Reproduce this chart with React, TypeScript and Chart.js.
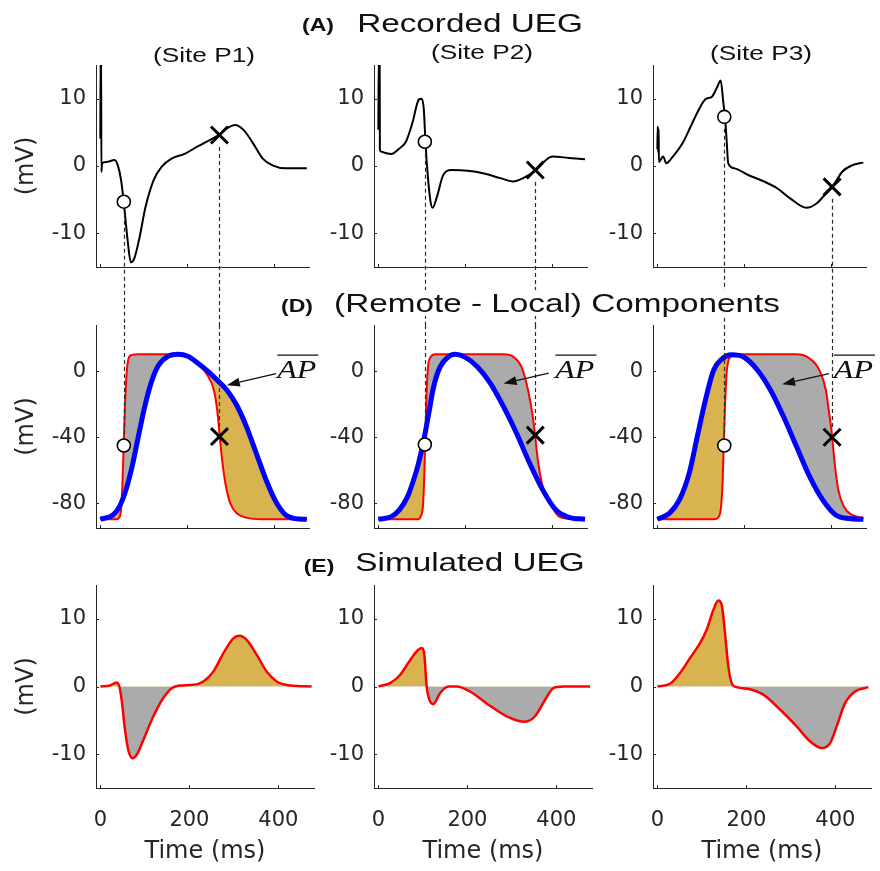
import React, { useEffect, useRef } from 'react';
import { Chart, registerables } from 'chart.js';

Chart.register(...registerables);

// ---------------- data ----------------
const xTicks = [0, 200, 400];
const uegTicks = [-10, 0, 10];
const apTicks = [-80, -40, 0];

// (A) recorded UEG, sites P1..P3  (time ms, mV)
const rec1T = [0, 0.6, 1.2, 1.8, 2.4, 4, 14, 32.7, 40.2, 47.7, 53.7, 62.7, 70.2, 77.7, 88.9, 103.9, 122.6, 141.3, 163.8, 193.8, 223.8, 253.7, 272.5, 291.2, 309.9, 328.7, 351.1, 373.6, 396.1, 426, 475];
const rec1V = [4.1, 16, 4.1, 16, -0.9, 0.4, 0.6, 0.9, 0.1, -2.1, -5.3, -11.0, -14.3, -13.8, -11.0, -6.1, -2.1, -0.1, 1.1, 1.8, 2.9, 3.9, 4.6, 5.6, 6.1, 5.4, 3.4, 1.1, 0.1, -0.35, -0.35];
const rec2T = [0, 1, 2, 3, 3.5, 7.2, 18.5, 29.7, 48.4, 63.4, 78.4, 93.4, 99.4, 104.6, 108.4, 112.1, 119.6, 124.9, 134.6, 149.6, 168.3, 205.8, 243.2, 280.7, 310.7, 333.1, 363.1, 385.6, 400.6, 438, 475.5];
const rec2V = [5.4, 16, 5.4, 16, 2.4, 2.1, 1.9, 1.8, 2.6, 3.6, 6.4, 9.9, 10.0, 8.4, 3.6, -0.1, -5.1, -6.2, -4.6, -1.3, -0.6, -0.7, -1.1, -1.8, -2.3, -1.8, -0.6, 0.9, 1.4, 1.2, 1.0];
const rec3T = [0, 1, 2, 3, 3.5, 13.2, 20.7, 32, 58.2, 76.9, 95.6, 110.6, 125.6, 136.8, 145.8, 151.8, 155.6, 159.3, 163.1, 178, 208, 245.4, 275.5, 305.4, 342.9, 365.4, 387.8, 402.8, 425.3, 447.8, 474];
const rec3V = [2.5, 5.9, 2.0, 5.5, 0.6, 1.4, 0.4, 1.1, 3.4, 5.9, 8.4, 9.9, 10.3, 11.6, 12.7, 9.4, 7.3, 3.9, 0.4, -0.35, -1.3, -2.3, -3.3, -4.8, -6.2, -5.6, -4.1, -3.1, -0.85, 0.1, 0.5];

// (D) mean AP (blue) and local AP (red)
const mean1T = [0, 29, 43.9, 58.9, 73.9, 88.9, 103.9, 118.9, 133.9, 156.4, 178.9, 201.4, 223.8, 246.3, 268.8, 291.3, 313.8, 336.3, 358.8, 381.3, 403.7, 426.2, 448.7, 475];
const mean1V = [-89.7, -87.1, -82.0, -71.9, -56.8, -37.7, -19.5, -5.4, 3.6, 9.1, 10.3, 9.1, 5.0, 0.2, -5.4, -11.5, -20.6, -33.7, -49.8, -65.9, -79.0, -87.1, -89.3, -89.7];
const local1T = [0, 36.4, 43.9, 47.6, 50.6, 53.6, 56.6, 60.4, 64.9, 72.4, 88.9, 160.1, 178.9, 201.4, 223.8, 246.3, 261.3, 268.8, 274.8, 280.1, 287.6, 298.8, 313.8, 336.3, 373.8, 475];
const local1V = [-89.7, -89.7, -88.5, -84.0, -70.0, -45.1, -21.6, -1.4, 7.7, 9.9, 10.3, 10.3, 10.0, 8.6, 4.4, -2.4, -11.5, -23.6, -39.6, -53.8, -67.9, -80.0, -86.1, -88.7, -89.7, -89.7];
const mean2T = [0, 29.7, 48.4, 67.2, 85.9, 93.4, 104.6, 115.9, 127.1, 142.1, 160.8, 175.8, 198.3, 228.3, 258.2, 288.2, 318.2, 348.1, 378.1, 408.1, 438, 475.5];
const mean2V = [-89.7, -88.1, -84.0, -76.0, -61.9, -54.8, -41.7, -25.6, -9.5, 2.6, 8.7, 10.3, 8.7, 2.6, -7.5, -21.6, -37.7, -55.8, -71.9, -84.0, -88.5, -89.7];
const local2T = [0, 93.4, 97.1, 102.4, 105.4, 107.7, 109.9, 113.6, 119.6, 130.9, 288.2, 310.7, 329.4, 344.4, 354.1, 360.5, 366.9, 378.1, 393.1, 415.6, 453, 475.5];
const local2V = [-89.7, -89.7, -88.1, -82.0, -65.9, -44.4, -21.6, 0.6, 8.3, 10.3, 10.3, 8.7, 2.6, -11.5, -25.6, -38.7, -53.8, -69.9, -78.5, -88.1, -89.7, -89.7];
const mean3T = [0, 28.2, 50.7, 73.2, 91.9, 110.6, 129.4, 148.1, 170.6, 200.5, 230.5, 260.5, 290.4, 320.4, 350.4, 380.4, 410.3, 440.3, 474];
const mean3V = [-89.7, -86.0, -78.0, -61.9, -39.6, -17.5, 0.6, 7.3, 9.9, 8.3, 0.6, -11.5, -27.6, -45.8, -63.9, -78.0, -87.1, -89.3, -89.7];
const local3T = [0, 129.4, 140.6, 146.6, 150.3, 152.6, 155.6, 159.3, 166.8, 185.5, 320.4, 350.4, 372.9, 387.8, 395.3, 400.6, 404.3, 408.8, 416.3, 429, 447.8, 474];
const local3V = [-89.7, -89.7, -88.5, -82.0, -65.9, -45.1, -21.6, -1.4, 8.3, 10.3, 10.3, 7.7, 0.6, -11.5, -25.6, -35.7, -45.8, -57.8, -71.9, -82.0, -87.1, -88.9];

// (E) simulated UEG
const sim1T = [0, 21.5, 36.5, 42.4, 47.7, 55.2, 62.7, 71.7, 81.4, 96.4, 118.9, 141.3, 160.1, 178.8, 208.8, 231.3, 253.7, 276.2, 298.7, 311.4, 328.7, 351.1, 373.6, 396.1, 426, 474.7];
const sim1V = [0, 0.15, 0.6, 0, -2.0, -6.4, -9.4, -10.6, -10.1, -7.9, -4.4, -1.7, -0.25, 0.15, 0.25, 0.74, 2.2, 4.9, 7.1, 7.5, 6.9, 4.7, 2.2, 0.74, 0.15, 0];
const sim2T = [0, 26, 48.4, 67.2, 85.9, 97.1, 103.1, 108.4, 115.9, 123.4, 138.3, 157.1, 175.8, 205.8, 243.2, 288.2, 329.4, 351.9, 374.4, 393.1, 415.6, 475.5];
const sim2V = [0, 0.5, 1.7, 3.5, 5.2, 5.7, 4.7, 0, -2.2, -2.6, -1.0, 0, 0, -0.74, -2.5, -4.4, -5.2, -4.4, -2.0, -0.25, 0, 0];
const sim3T = [0, 28.2, 50.7, 73.2, 95.6, 110.6, 125.6, 136.8, 144.3, 151.8, 159.3, 166.8, 178, 208, 237.9, 275.5, 312.9, 342.9, 369.1, 387.8, 402.8, 421.5, 444, 474];
const sim3V = [0, 0.4, 2.0, 4.2, 6.4, 8.4, 11.3, 12.7, 12.1, 7.9, 3.0, 0.5, -0.1, -0.4, -1.2, -3.4, -5.9, -8.1, -9.1, -8.4, -5.9, -2.5, -0.74, -0.1];

// markers (activation circle, repolarisation cross)
const activationT = [54, 107, 154];
const repolT = [274, 361, 402];
const recCircleV = [-5.3, 3.6, 7.3];
const recCrossV = [4.6, -0.6, -3.1];
const apCircleV = [-45, -44.4, -45];
const apCrossV = [-39.6, -38.7, -40];

// AP-bar annotation arrows (data coords of middle row)
const arrowTailT = [404, 392, 395];
const arrowTailV = [-1.4, -1.2, -1.4];
const arrowTipT = [291, 288, 287];
const arrowTipV = [-8.5, -7.4, -7.9];
const apLabelT = [407, 407, 406];
const apLabelV = [-4.2, -4.2, -4.2];

const siteLabels = ['(Site P1)', '(Site P2)', '(Site P3)'];

const recT = [rec1T, rec2T, rec3T];
const recV = [rec1V, rec2V, rec3V];
const meanT = [mean1T, mean2T, mean3T];
const meanV = [mean1V, mean2V, mean3V];
const localT = [local1T, local2T, local3T];
const localV = [local1V, local2V, local3V];
const simT = [sim1T, sim2T, sim3T];
const simV = [sim1V, sim2V, sim3V];

// ---------------- style / layout ----------------
const RED = '#ff0000';
const BLUE = '#0000ff';
const GOLD = '#D9B34F';
const GRAY = '#ABABAB';
const AX = '#262626';
const CFONT = '"DejaVu Sans", sans-serif';
const HFONT = '"Liberation Sans", Arial, sans-serif';

const PLOT_LEFT = [96, 374, 653];
const PLOT_W = 218;
const ROW_TOP = [65, 325, 585];
const ROW_H = [202, 203, 203];
const X_AXIS_H = [58, 26, 83];
const PAD_T = 24;
const PAD_R = 10;
const yAxisW = (col: number) => (col === 0 ? 96 : 90);

const pts = (t: number[], v: number[]) => t.map((x, i) => ({ x, y: v[i] }));

function decoPlugin(row: number, col: number) {
  return {
    id: 'deco',
    afterDatasetDraw(chart: any, args: any) {
      if (row === 2 || args.index !== 2) return;
      const { ctx, chartArea } = chart;
      const x = chart.scales.x;
      const y = chart.scales.y;
      const marks =
        row === 0
          ? [[activationT[col], recCircleV[col]], [repolT[col], recCrossV[col]]]
          : [[activationT[col], apCircleV[col]], [repolT[col], apCrossV[col]]];
      ctx.save();
      ctx.strokeStyle = '#2a2a2a';
      ctx.lineWidth = 1.2;
      ctx.setLineDash([4, 3]);
      for (const [t, v] of marks) {
        const px = Math.round(x.getPixelForValue(t)) + 0.5;
        const py = y.getPixelForValue(v);
        ctx.beginPath();
        if (row === 0) {
          ctx.moveTo(px, py + 12);
          ctx.lineTo(px, chart.height);
        } else {
          ctx.moveTo(px, chartArea.top);
          ctx.lineTo(px, py - 10);
        }
        ctx.stroke();
      }
      ctx.restore();
    },
    afterDraw(chart: any) {
      const { ctx, chartArea } = chart;
      const x = chart.scales.x;
      const y = chart.scales.y;
      ctx.save();
      ctx.strokeStyle = AX;
      ctx.lineWidth = 1;
      for (const t of x.ticks) {
        const px = Math.round(x.getPixelForValue(t.value)) + 0.5;
        ctx.beginPath();
        ctx.moveTo(px, chartArea.bottom);
        ctx.lineTo(px, chartArea.bottom - 3);
        ctx.stroke();
      }
      for (const t of y.ticks) {
        const py = Math.round(y.getPixelForValue(t.value)) + 0.5;
        ctx.beginPath();
        ctx.moveTo(chartArea.left, py);
        ctx.lineTo(chartArea.left + 3, py);
        ctx.stroke();
      }
      if (row === 1) {
        // arrow
        const tx = x.getPixelForValue(arrowTailT[col]);
        const ty = y.getPixelForValue(arrowTailV[col]);
        const hx = x.getPixelForValue(arrowTipT[col]);
        const hy = y.getPixelForValue(arrowTipV[col]);
        const ang = Math.atan2(hy - ty, hx - tx);
        const L = 13;
        const W = 4.5;
        const bx = hx - L * Math.cos(ang);
        const by = hy - L * Math.sin(ang);
        ctx.strokeStyle = '#111';
        ctx.fillStyle = '#111';
        ctx.lineWidth = 1.3;
        ctx.beginPath();
        ctx.moveTo(tx, ty);
        ctx.lineTo(bx, by);
        ctx.stroke();
        ctx.beginPath();
        ctx.moveTo(hx, hy);
        ctx.lineTo(bx + W * Math.sin(ang), by - W * Math.cos(ang));
        ctx.lineTo(bx - W * Math.sin(ang), by + W * Math.cos(ang));
        ctx.closePath();
        ctx.fill();
        // AP label with overline
        const lx = x.getPixelForValue(apLabelT[col]);
        const ly = y.getPixelForValue(apLabelV[col]);
        ctx.save();
        ctx.translate(lx, ly);
        ctx.scale(1.28, 1);
        ctx.font = 'italic 25px "Liberation Serif", serif';
        ctx.textAlign = 'left';
        ctx.textBaseline = 'alphabetic';
        ctx.fillText('AP', 0, 0);
        const w = ctx.measureText('AP').width;
        ctx.restore();
        ctx.lineWidth = 1.2;
        ctx.beginPath();
        ctx.moveTo(lx, ly - 23);
        ctx.lineTo(lx + w * 1.28 + 2, ly - 23);
        ctx.stroke();
      }
      ctx.restore();
    },
  };
}

function buildConfig(row: number, col: number): any {
  const datasets: any[] = [];
  const circleStyle = {
    showLine: false,
    pointStyle: 'circle',
    pointRadius: 6.5,
    pointBackgroundColor: '#ffffff',
    pointBorderColor: '#000000',
    pointBorderWidth: 1.6,
  };
  const crossStyle = {
    showLine: false,
    pointStyle: 'crossRot',
    pointRadius: 12,
    pointBorderColor: '#000000',
    pointBackgroundColor: '#000000',
    pointBorderWidth: 3,
  };
  let yMin = -15;
  let yMax = 15;
  let yTicks = uegTicks;
  if (row === 0) {
    datasets.push({ ...circleStyle, data: [{ x: activationT[col], y: recCircleV[col] }] });
    datasets.push({ ...crossStyle, data: [{ x: repolT[col], y: recCrossV[col] }] });
    datasets.push({
      data: pts(recT[col], recV[col]),
      borderColor: '#000000',
      borderWidth: 2,
      pointRadius: 0,
      cubicInterpolationMode: 'monotone',
      fill: false,
    });
  } else if (row === 1) {
    yMin = -95;
    yMax = 28;
    yTicks = apTicks;
    datasets.push({ ...circleStyle, data: [{ x: activationT[col], y: apCircleV[col] }] });
    datasets.push({ ...crossStyle, data: [{ x: repolT[col], y: apCrossV[col] }] });
    datasets.push({
      data: pts(meanT[col], meanV[col]),
      borderColor: BLUE,
      borderWidth: 5,
      pointRadius: 0,
      cubicInterpolationMode: 'monotone',
      fill: false,
    });
    datasets.push({
      data: pts(localT[col], localV[col]),
      borderColor: RED,
      borderWidth: 2,
      pointRadius: 0,
      cubicInterpolationMode: 'monotone',
      fill: { target: 2, above: GRAY, below: GOLD },
    });
  } else {
    datasets.push({
      data: pts(simT[col], simV[col]),
      borderColor: RED,
      borderWidth: 2.5,
      pointRadius: 0,
      cubicInterpolationMode: 'monotone',
      fill: { target: { value: 0 }, above: GOLD, below: GRAY },
    });
  }

  const yW = yAxisW(col);
  const xH = X_AXIS_H[row];

  return {
    type: 'line',
    data: { datasets },
    options: {
      responsive: false,
      animation: false,
      devicePixelRatio: 1,
      events: [],
      layout: { padding: { top: PAD_T, right: PAD_R, left: 0, bottom: 0 } },
      plugins: { legend: { display: false }, tooltip: { enabled: false } },
      scales: {
        x: {
          type: 'linear',
          min: -10,
          max: 480,
          afterBuildTicks: (s: any) => {
            s.ticks = xTicks.map((v) => ({ value: v }));
          },
          afterFit: (s: any) => {
            s.height = xH;
          },
          grid: { display: false, drawTicks: false },
          border: { display: true, color: AX, width: 1 },
          ticks: {
            display: row === 2,
            font: { family: CFONT, size: 21 },
            color: AX,
            padding: 20,
            maxRotation: 0,
            callback: (v: any) => String(v),
          },
          title: {
            display: row === 2,
            text: 'Time (ms)',
            font: { family: CFONT, size: 24 },
            color: AX,
            padding: { top: 0, bottom: 5 },
          },
        },
        y: {
          type: 'linear',
          min: yMin,
          max: yMax,
          afterBuildTicks: (s: any) => {
            s.ticks = yTicks.map((v) => ({ value: v }));
          },
          afterFit: (s: any) => {
            s.width = yW;
          },
          grid: { display: false, drawTicks: false },
          border: { display: true, color: AX, width: 1 },
          ticks: {
            font: { family: CFONT, size: 21 },
            color: AX,
            padding: 10,
            callback: (v: any) => String(v),
          },
          title: {
            display: col === 0,
            text: '(mV)',
            font: { family: CFONT, size: 24 },
            color: AX,
            padding: { top: 12.6, bottom: 0 },
          },
        },
      },
    },
    plugins: [decoPlugin(row, col)],
  };
}

function PanelChart({ row, col }: { row: number; col: number }) {
  const ref = useRef<HTMLCanvasElement | null>(null);
  const yW = yAxisW(col);
  const w = yW + PLOT_W + PAD_R;
  const h = PAD_T + ROW_H[row] + X_AXIS_H[row];
  const left = PLOT_LEFT[col] - yW;
  const top = ROW_TOP[row] - PAD_T;
  useEffect(() => {
    if (!ref.current) return;
    const chart = new Chart(ref.current, buildConfig(row, col));
    return () => chart.destroy();
  }, [row, col]);
  return (
    <canvas
      ref={ref}
      width={w}
      height={h}
      style={{ position: 'absolute', left, top, width: w, height: h }}
    />
  );
}

function Label({ x, y, text, size, bold }: { x: number; y: number; text: string; size: number; bold?: boolean }) {
  return (
    <div
      style={{
        position: 'absolute',
        left: x,
        top: y,
        transform: 'translate(-50%, -50%) scaleX(1.28)',
        fontFamily: HFONT,
        fontSize: size,
        fontWeight: bold ? 'bold' : 'normal',
        lineHeight: 1,
        whiteSpace: 'nowrap',
        background: '#ffffff',
        color: '#111111',
      }}
    >
      {text}
    </div>
  );
}

export default function App() {
  const panels: { row: number; col: number }[] = [];
  for (let r = 0; r < 3; r++) for (let c = 0; c < 3; c++) panels.push({ row: r, col: c });
  return (
    <div
      style={{
        position: 'absolute',
        left: 0,
        top: 0,
        width: 880,
        height: 871,
        background: '#ffffff',
        overflow: 'hidden',
      }}
    >
      {panels.map((p) => (
        <PanelChart key={`${p.row}-${p.col}`} row={p.row} col={p.col} />
      ))}
      <Label x={317.5} y={25} text="(A)" size={18} bold />
      <Label x={470} y={23} text="Recorded UEG" size={26} />
      <Label x={203.5} y={55} text={siteLabels[0]} size={20.5} />
      <Label x={482} y={52} text={siteLabels[1]} size={20.5} />
      <Label x={761} y={53} text={siteLabels[2]} size={20.5} />
      <Label x={296.5} y={306} text="(D)" size={18} bold />
      <Label x={556.5} y={303} text="(Remote - Local) Components" size={26} />
      <Label x={318.5} y={566} text="(E)" size={18} bold />
      <Label x={469.5} y={562} text="Simulated UEG" size={26} />
    </div>
  );
}
